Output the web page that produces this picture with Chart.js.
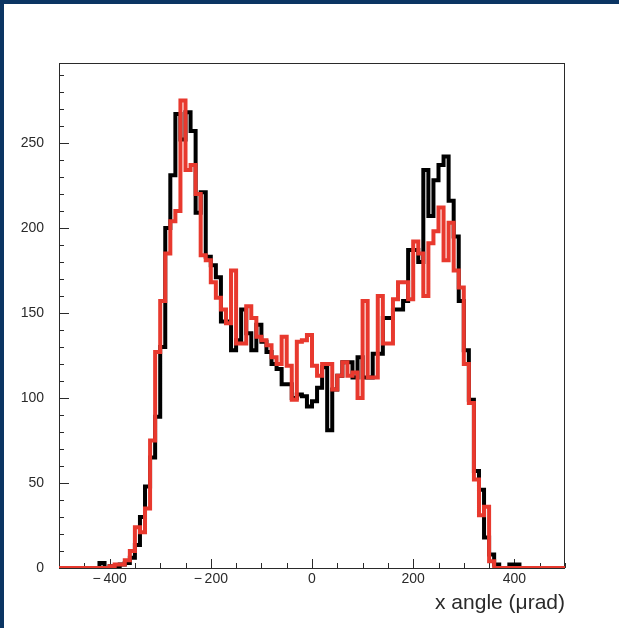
<!DOCTYPE html>
<html>
<head>
<meta charset="utf-8">
<script src="https://cdn.jsdelivr.net/npm/chart.js@4.4.0/dist/chart.umd.min.js"></script>
<style>
  html, body { margin: 0; padding: 0; }
  body { width: 619px; height: 628px; background: #0b3563; overflow: hidden; position: relative; }
  #wrap { position: absolute; left: 4px; top: 4px; width: 615px; height: 624px; background: #fff; }
  canvas { display: block; }
</style>
</head>
<body>
<div id="wrap"><canvas id="histo" width="615" height="624"></canvas></div>
<script>
// histogram definition: 100 bins of 10 urad from -500 to 500
const binLow = -500;
const binWidth = 10;

// black histogram, counts per bin
const countsBlack = [
  0, 0, 0, 0, 0, 0, 0, 0, 3, 0,
  1, 1, 2, 3, 6, 13.5, 30, 48, 65, 89,
  130, 200, 231, 267, 252, 268, 257, 209, 221, 183,
  178, 171, 145, 145, 128, 134, 152, 138, 128, 143,
  133, 127, 120, 117, 108, 108, 100, 102, 101, 95,
  98, 106, 118, 81, 105, 113, 121, 121, 112, 124,
  112, 112, 126, 126, 147, 147, 152, 152, 157, 187,
  187, 180, 234, 207, 228, 237, 242, 216, 195, 157,
  128, 99, 57, 46, 18, 8, 2, 0, 0, 2,
  2, 0, 0, 0, 0, 0, 0, 0, 0, 0
];

// red histogram, counts per bin
const countsRed = [
  0, 0, 0, 0, 0, 0, 0, 0, 0, 0,
  1, 2, 2, 4.5, 10, 24, 21, 35, 75, 127,
  157, 185, 204, 210, 275, 234, 237, 220, 184, 181,
  168, 159, 152, 144, 175, 132, 132, 154, 147, 136,
  134, 131, 124, 120, 136, 119, 99, 133, 134, 137,
  119, 113, 120, 120, 105, 113, 121, 113, 115, 100,
  157, 112, 112, 160, 132, 132, 158, 168, 168, 158,
  192, 185, 160, 191, 198, 212, 181, 203, 175, 165,
  120, 97, 52, 31, 36, 4, 0, 0, 0, 0,
  0, 0, 0, 0, 0, 0, 0, 0, 0, 0
];

// axes
const xMin = -500, xMax = 500, xMinorStep = 50;
const yMin = 0, yMax = 297, yMinorStep = 10;
const xTickValues = [-400, -200, 0, 200, 400];
const yTickValues = [0, 50, 100, 150, 200, 250];
const xTitle = 'x angle (\u03bcrad)';

// histogram outline: one point per bin low edge, plus the closing edge
function toSteps(counts) {
  const pts = counts.map((c, i) => ({ x: binLow + i * binWidth, y: c }));
  pts.push({ x: binLow + counts.length * binWidth, y: counts[counts.length - 1] });
  return pts;
}

const labelFont = { family: '"Liberation Sans", Arial, sans-serif', size: 14 };
const inkColor = '#2a2a2a';

// frame plus inward ticks, ROOT style
const frameTicks = {
  id: 'frameTicks',
  beforeDatasetsDraw(chart) {
    const { ctx, chartArea: a, scales: { x, y } } = chart;
    ctx.save();
    ctx.strokeStyle = inkColor;
    ctx.lineWidth = 1;
    ctx.beginPath();
    for (let v = xMin; v <= xMax; v += xMinorStep) {
      const px = Math.round(x.getPixelForValue(v)) + 0.5;
      const len = xTickValues.includes(v) ? 9 : 5;
      ctx.moveTo(px, a.bottom);
      ctx.lineTo(px, a.bottom - len);
    }
    for (let v = yMin; v <= yMax; v += yMinorStep) {
      const py = Math.round(y.getPixelForValue(v)) + 0.5;
      const len = yTickValues.includes(v) ? 10 : 5;
      ctx.moveTo(a.left, py);
      ctx.lineTo(a.left + len, py);
    }
    ctx.stroke();
    ctx.strokeRect(a.left + 0.5, a.top + 0.5, a.right - a.left - 1, a.bottom - a.top);
    ctx.restore();
  }
};

new Chart(document.getElementById('histo'), {
  type: 'line',
  data: {
    datasets: [
      {
        label: 'red',
        data: toSteps(countsRed),
        stepped: 'before',
        borderColor: '#e8392e',
        borderWidth: 4,
        pointRadius: 0,
        fill: false,
        order: 0
      },
      {
        label: 'black',
        data: toSteps(countsBlack),
        stepped: 'before',
        borderColor: '#000',
        borderWidth: 4,
        pointRadius: 0,
        fill: false,
        order: 1
      }
    ]
  },
  options: {
    responsive: false,
    animation: false,
    events: [],
    layout: { padding: { left: 0, top: 59, right: 54, bottom: 0 } },
    plugins: { legend: { display: false }, tooltip: { enabled: false } },
    scales: {
      x: {
        type: 'linear',
        min: xMin,
        max: xMax,
        afterFit: (s) => { s.height = 60; },
        afterBuildTicks: (s) => { s.ticks = xTickValues.map(v => ({ value: v })); },
        grid: { display: false },
        border: { display: false },
        ticks: {
          padding: -5,
          maxRotation: 0,
          autoSkip: false,
          color: inkColor,
          font: labelFont,
          callback: (v) => (v < 0 ? '\u2212\u2009' + Math.abs(v) : String(v))
        },
        title: {
          display: true,
          text: xTitle,
          align: 'end',
          color: inkColor,
          font: { family: labelFont.family, size: 21 },
          padding: { top: 0, bottom: 12 }
        }
      },
      y: {
        type: 'linear',
        min: yMin,
        max: yMax,
        afterFit: (s) => { s.width = 55; },
        afterBuildTicks: (s) => { s.ticks = yTickValues.map(v => ({ value: v })); },
        grid: { display: false },
        border: { display: false },
        ticks: { padding: 7, color: inkColor, font: labelFont }
      }
    }
  },
  plugins: [frameTicks]
});
</script>
</body>
</html>
